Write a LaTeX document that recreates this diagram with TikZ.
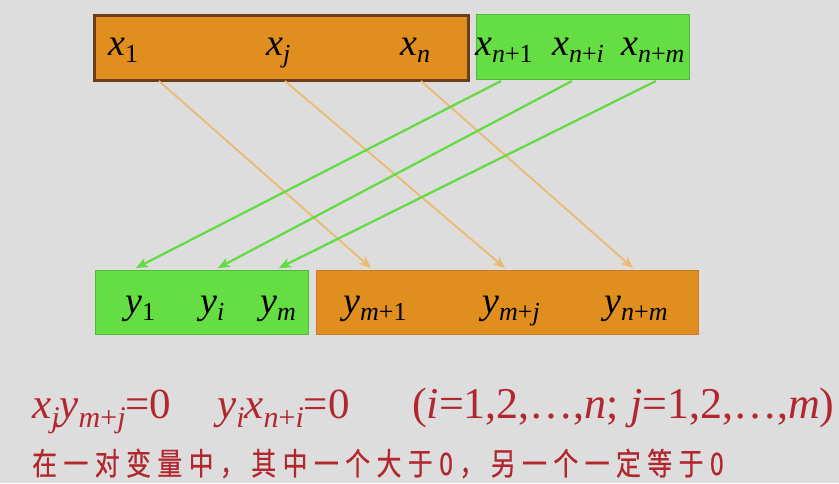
\documentclass[tikz,border=0pt]{standalone}
\usepackage{fontspec}
\setmainfont{Liberation Serif}
\newfontfamily\cjk[FakeStretch=0.8,LetterSpace=21,FakeBold=0.6]{Noto Sans CJK SC}
\usetikzlibrary{arrows.meta}
\definecolor{bg}{RGB}{221,221,221}
\definecolor{org}{RGB}{224,142,30}
\definecolor{grn}{RGB}{100,222,66}
\definecolor{brn}{RGB}{105,62,25}
\definecolor{orgline}{RGB}{200,122,40}
\definecolor{grnline}{RGB}{80,185,55}
\definecolor{orgarr}{RGB}{234,186,112}
\definecolor{grnarr}{RGB}{96,220,64}
\definecolor{txt}{RGB}{178,38,46}
\newcommand\lab[2]{\textit{#1}\raisebox{-7pt}{\fontsize{26}{26}\selectfont #2}}
\newcommand\fsub[1]{\raisebox{-9pt}{\fontsize{30}{30}\selectfont #1}}
\tikzset{
  boxo/.style={draw=orgline, line width=1pt, fill=org, anchor=north west, inner sep=0pt},
  boxg/.style={draw=grnline, line width=1pt, fill=grn, anchor=north west, inner sep=0pt},
  lbl/.style={anchor=base west, inner sep=0pt, font=\fontsize{38}{38}\selectfont},
  oarr/.style={draw=orgarr, line width=1.8pt, -{Stealth[length=12pt,width=10pt,inset=3.5pt]}},
  garr/.style={draw=grnarr, line width=2.2pt, -{Stealth[length=12pt,width=10pt,inset=3.5pt]}},
  ftxt/.style={anchor=base west, inner sep=0pt, text=txt, font=\fontsize{43}{43}\selectfont},
}
\begin{document}
\begin{tikzpicture}[x=1pt,y=-1pt]
\fill[bg] (0,0) rectangle (839,483);
\useasboundingbox (0,0) rectangle (839,483);
% boxes
\node[boxo, draw=brn, line width=2.5pt, minimum width=374pt, minimum height=65pt] (topO) at (93,14) {};
\node[boxg, minimum width=213pt, minimum height=65pt] (topG) at (476,14) {};
\node[boxg, minimum width=213pt, minimum height=64pt] (botG) at (95,270) {};
\node[boxo, minimum width=382pt, minimum height=64pt] (botO) at (316,270) {};
% top labels
\node[lbl] (x1) at (108,55) {\lab{x}{1}};
\node[lbl] (xj) at (266,55) {\lab{x}{\textit{j}}};
\node[lbl] (xn) at (400,55) {\lab{x}{\textit{n}}};
\node[lbl] (xn1) at (475,55) {\lab{x}{\textit{n}+1}};
\node[lbl] (xni) at (552,55) {\lab{x}{\textit{n}+\textit{i}}};
\node[lbl] (xnm) at (621,55) {\lab{x}{\textit{n}+\textit{m}}};
% bottom labels
\node[lbl] (y1) at (125,313) {\lab{y}{1}};
\node[lbl] (yi) at (200,313) {\lab{y}{\textit{i}}};
\node[lbl] (ym) at (260,313) {\lab{y}{\textit{m}}};
\node[lbl] (ym1) at (343,313) {\lab{y}{\textit{m}+1}};
\node[lbl] (ymj) at (482,313) {\lab{y}{\textit{m}+\textit{j}}};
\node[lbl] (ynm) at (604,313) {\lab{y}{\textit{n}+\textit{m}}};
% connector end points
\coordinate (os1) at (159,81); \coordinate (oe1) at (371,268);
\coordinate (os2) at (285,81); \coordinate (oe2) at (505,268);
\coordinate (os3) at (421,81); \coordinate (oe3) at (633,268);
\coordinate (gs1) at (501,81); \coordinate (ge1) at (136,268);
\coordinate (gs2) at (572,81); \coordinate (ge2) at (218,268);
\coordinate (gs3) at (656,81); \coordinate (ge3) at (279,268);
\draw[oarr] (os1) -- (oe1);
\draw[oarr] (os2) -- (oe2);
\draw[oarr] (os3) -- (oe3);
\draw[garr] (gs1) -- (ge1);
\draw[garr] (gs2) -- (ge2);
\draw[garr] (gs3) -- (ge3);
% formula
\node[ftxt] (f1) at (32,418) {\textit{x}\fsub{\textit{j}}\textit{y}\fsub{\textit{m}+\textit{j}}=0};
\node[ftxt] (f2) at (217,418) {\textit{y}\fsub{\textit{i}}\textit{x}\fsub{\textit{n}+\textit{i}}=0};
\node[ftxt, font=\fontsize{44}{44}\selectfont] (f3) at (412,418) {(\textit{i}=1,2,…,\textit{n}; \textit{j}=1,2,…,\textit{m})};
\node[anchor=base west, inner sep=0pt, text=txt, font=\cjk\fontsize{31}{31}\selectfont] (cn) at (32,475) {在一对变量中，其中一个大于0，另一个一定等于0};
\end{tikzpicture}
\end{document}
